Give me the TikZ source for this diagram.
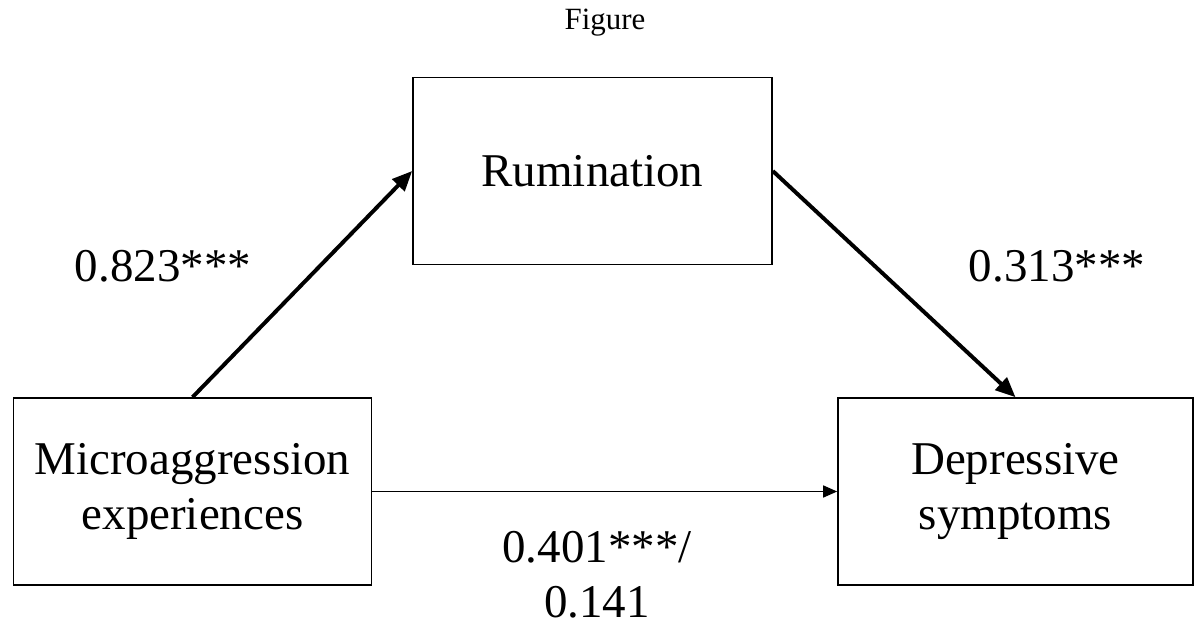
\documentclass[tikz,border=0pt]{standalone}
\usepackage{fontspec}
\setmainfont{Liberation Serif}
\usetikzlibrary{arrows.meta, positioning}

\begin{document}
\begin{tikzpicture}[x=0.025cm, y=-0.025cm,
	varbox/.style={draw, line width=1.1pt, minimum width=8.95cm, minimum height=4.675cm,
		align=center, inner sep=0pt, font=\fontsize{33.4}{39.1}\selectfont},
	coef/.style={align=center, inner sep=0pt, font=\fontsize{33.4}{39.1}\selectfont},
	bigarrow/.style={line width=2.8pt, -{Triangle[length=0.5cm, width=0.42cm]}},
	thinarrow/.style={line width=1.1pt, -{Triangle[length=0.35cm, width=0.3cm]}}]
	\useasboundingbox (0,0) rectangle (1196,625);
	% Title
	\node[font=\fontsize{22}{26}\selectfont] (title) at (605,23) {Figure};
	% Variables
	\node[varbox] (micro) at (192.5,491.5) {Microaggression\\experiences};
	\node[varbox, minimum width=8.975cm] (rum) at (592.5,171) {Rumination};
	\node[varbox, minimum width=8.875cm] (dep) at (1015.5,491.5) {Depressive\\symptoms};
	% Paths
	\draw[bigarrow] (micro.north) -- (rum.west);
	\draw[bigarrow] (rum.east) -- (dep.north);
	\draw[thinarrow] (micro.east) -- (dep.west);
	% Coefficients
	\node[coef] (a) at (163,266) {0.823***};
	\node[coef] (b) at (1057,266) {0.313***};
	\node[coef] (c) at (597,574.5) {0.401***/\\0.141};
\end{tikzpicture}
\end{document}
